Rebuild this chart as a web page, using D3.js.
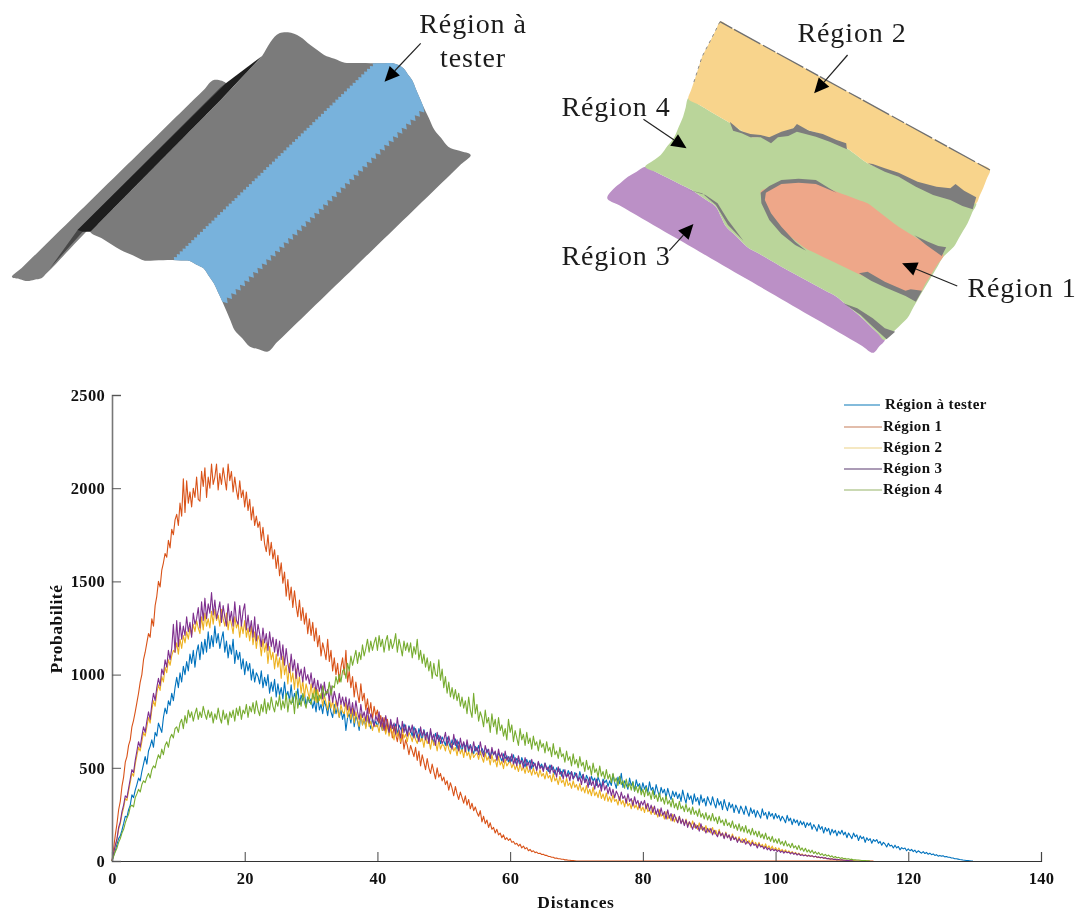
<!DOCTYPE html>
<html><head><meta charset="utf-8">
<script src="https://cdn.jsdelivr.net/npm/d3@7/dist/d3.min.js"></script>
<style>html,body{margin:0;padding:0;background:#fff}svg{display:block;filter:blur(0.35px)}</style>
</head><body><svg id="c" width="1082" height="912"></svg>
<script>
// Sampling grid of the curves (each row below covers 5 distance units)
const distances = d3.range(0, 130.25, 0.25);
const seriesNames = ["Région à tester","Région 1","Région 2","Région 3","Région 4"];
const seriesColors = ["#0072BD","#D95319","#EDB120","#7E2F8E","#77AC30"];
const legendColors = ["#5aa5cf","#d9a78f","#f2e0ae","#8f7a9e","#b9cc9a"];
const xTicks = [0,20,40,60,80,100,120,140];
const yTicks = [0,500,1000,1500,2000,2500];

const regionTester = [
0,30,55,90,120,135,165,200,240,235,275,300,355,340,380,410,445,430,480,520,
560,520,590,615,650,610,690,670,740,715,690,770,820,790,860,835,900,860,930,985,
930,1010,960,1045,1000,1070,1020,1110,1060,1130,1040,1120,1160,1080,1175,1110,1190,1120,1230,1140,
1210,1150,1260,1170,1220,1140,1190,1230,1120,1180,1090,1160,1110,1190,1060,1130,1080,1120,1030,1085,
1000,1070,1020,1060,970,1030,960,1010,990,950,1020,930,985,940,1000,900,960,910,975,880,
950,890,930,870,960,880,910,860,945,850,900,870,925,840,890,860,900,830,880,850,
870,820,860,800,885,810,840,790,860,830,780,850,800,770,840,790,825,770,810,760,
800,700,770,790,740,810,720,780,750,700,790,730,760,720,770,740,710,765,730,750,
720,760,735,700,750,715,740,690,745,725,700,735,680,730,710,690,735,705,680,725,
700,670,720,690,660,710,680,650,705,670,690,640,695,665,635,685,655,675,630,665,
645,620,665,635,610,650,625,655,600,640,615,590,635,610,630,585,625,600,575,615,
590,620,570,605,585,565,600,575,550,595,570,585,545,580,560,535,575,550,565,530,
560,535,570,525,550,540,510,555,530,505,545,520,540,495,530,515,490,530,505,520,
490,525,500,480,515,490,505,465,500,480,495,455,490,470,450,485,465,480,440,475,
455,430,480,445,465,420,460,440,410,455,430,445,405,450,425,395,440,420,435,400,
430,405,465,420,390,450,415,470,395,430,410,385,445,405,425,375,435,400,415,375,
420,385,405,365,425,380,395,355,410,375,345,395,365,385,340,390,355,330,375,345,
370,335,360,320,380,340,310,365,330,350,305,360,320,340,300,355,315,335,295,345,
320,300,345,310,285,335,300,320,275,330,295,270,315,285,305,260,300,280,255,295,
275,250,295,265,240,285,255,275,235,270,250,230,280,245,260,225,265,240,255,225,
255,230,245,215,240,225,205,245,215,230,195,225,205,220,190,215,195,210,180,205,
190,205,170,195,180,160,195,170,185,150,180,160,175,140,170,150,165,135,160,145,
165,140,155,125,150,135,120,150,130,140,110,135,120,130,100,125,110,120,95,115,
105,115,95,105,85,100,90,75,95,80,85,70,85,70,78,60,72,65,70,55,
65,55,62,50,58,45,55,48,42,50,40,46,36,42,34,38,30,34,26,30,
26,28,22,24,20,20,16,16,12,12,10,8,7,5,4,3,2,1,0,0];

const region1 = [
0,70,140,200,275,320,400,450,530,560,620,650,720,755,800,850,900,960,1000,1080,
1120,1170,1220,1200,1300,1260,1370,1420,1500,1470,1560,1600,1650,1630,1720,1680,1780,1750,1830,1860,
1800,1920,1850,2050,1870,2040,1920,1980,1900,2000,1950,2060,1940,1930,2090,2010,2110,1950,2060,2000,
2130,2020,2060,2130,1990,2080,2020,2110,2050,1990,2130,2040,2090,1980,2060,1990,1940,2040,1950,1990,
1900,1980,1880,1940,1830,1900,1800,1850,1790,1820,1720,1790,1700,1660,1750,1640,1710,1620,1670,1570,
1640,1530,1600,1490,1550,1420,1510,1400,1470,1360,1450,1370,1310,1400,1290,1360,1270,1330,1220,1300,
1210,1280,1180,1250,1150,1210,1100,1170,1130,1080,1190,1070,1130,1020,1090,1000,1060,960,1040,1090,
1000,1130,960,1020,930,990,880,960,900,850,950,860,900,810,870,790,850,760,830,780,
810,740,780,720,770,690,760,700,730,660,720,680,640,700,630,680,600,650,620,570,
620,590,560,610,540,590,510,570,530,490,550,500,470,520,480,440,500,450,470,430,
450,410,430,380,420,390,350,400,360,330,370,340,310,350,300,330,280,310,270,290,
260,240,270,210,240,200,220,180,205,170,180,150,170,140,150,125,140,115,125,110,
120,100,105,90,95,80,90,70,80,65,72,55,62,50,55,45,48,40,42,35,
36,30,30,25,24,20,20,15,16,12,12,9,9,6,6,4,4,2,2,1,
0,0,0,0,0,0,0,0,0,0,0,0,0,0,0,0,0,0,0,0,
0,0,0,0,0,0,0,0,0,0,0,0,0,0,0,0,0,0,0,0,
0,0,0,0,0,0,0,0,0,0,0,0,0,0,0,0,0,0,0,0,
0,0,0,0,0,0,0,0,0,0,0,0,0,0,0,0,0,0,0,0,
0,0,0,0,0,0,0,0,0,0,0,0,0,0,0,0,0,0,0,0,
0,0,0,0,0,0,0,0,0,0,0,0,0,0,0,0,0,0,0,0,
0,0,0,0,0,0,0,0,0,0,0,0,0,0,0,0,0,0,0,0,
0,0,0,0,0,0,0,0,0,0,0,0,0,0,0,0,0,0,0,0,
0,0,0,0,0,0,0,0,0,0,0,0,0,0,0,0,0,0,0,0];

const region2 = [
0,40,80,115,170,200,250,285,335,325,375,420,470,455,520,565,610,590,640,690,
670,720,770,740,810,860,830,900,945,915,990,960,1040,1010,1080,1050,1100,1130,1120,1170,
1110,1190,1140,1210,1170,1230,1190,1250,1210,1270,1230,1290,1250,1220,1310,1240,1330,1260,1300,1250,
1340,1270,1350,1290,1320,1260,1350,1300,1260,1330,1240,1310,1270,1220,1310,1250,1280,1200,1270,1220,
1290,1200,1250,1180,1260,1160,1230,1140,1210,1180,1100,1190,1120,1170,1060,1150,1080,1120,1030,1110,
1040,1090,980,1100,1000,1050,950,1060,960,1010,920,1030,930,990,900,970,880,950,910,870,
950,870,930,850,920,860,900,830,890,850,810,880,820,860,790,860,810,770,840,800,
790,850,770,830,760,820,740,800,760,720,790,730,770,710,780,720,750,700,740,720,
730,690,750,700,720,680,730,670,710,690,650,720,670,700,640,710,660,680,640,690,
670,640,690,650,630,680,640,660,610,670,630,650,600,660,620,640,590,650,600,625,
620,590,640,600,575,630,590,610,565,620,575,600,555,610,565,585,545,595,555,570,
580,545,590,555,530,580,540,560,515,570,530,545,505,560,515,535,495,545,510,525,
535,500,525,490,515,480,520,485,505,470,510,475,490,460,500,465,480,450,490,455,
470,440,480,445,460,425,470,430,445,410,455,420,435,400,445,405,420,390,430,395,
410,380,415,375,395,365,405,360,385,350,395,350,370,340,380,335,360,325,365,320,
345,315,355,320,330,300,345,305,325,290,335,295,310,280,325,285,300,275,310,270,
290,260,305,265,275,250,290,250,265,235,275,240,255,225,265,225,245,215,250,210,
235,205,240,205,220,195,225,190,210,180,215,180,195,170,205,170,185,160,190,155,
175,150,180,145,165,135,170,135,150,125,155,125,140,115,145,115,130,105,130,100,
120,98,122,95,110,88,112,85,100,80,100,76,90,70,92,68,82,62,80,58,
72,56,70,52,62,48,60,44,54,42,50,38,46,34,42,32,38,28,34,26,
32,24,28,22,26,18,22,16,20,14,16,12,14,10,12,8,10,6,7,5,
6,4,4,3,2,2,1,1,0];

const region3 = [
0,45,85,120,180,210,265,300,350,340,390,440,490,475,540,590,640,610,670,720,
690,750,800,760,840,900,860,930,980,940,1030,1000,1080,1040,1130,1080,1140,1270,1120,1290,
1150,1280,1190,1260,1210,1310,1230,1280,1200,1330,1270,1300,1360,1250,1390,1290,1410,1300,1380,1330,
1440,1320,1400,1300,1340,1390,1280,1370,1310,1260,1380,1290,1340,1260,1390,1290,1270,1370,1260,1340,
1380,1240,1320,1230,1290,1200,1310,1180,1270,1220,1150,1250,1170,1220,1130,1230,1150,1200,1120,1190,
1100,1180,1080,1160,1050,1140,1060,1010,1110,1020,1080,980,1060,990,1030,960,1040,970,1000,950,
1010,930,980,900,970,910,950,870,960,890,920,860,940,850,910,870,830,900,840,880,
830,880,810,870,790,850,780,860,800,760,840,770,800,750,820,740,790,760,720,780,
750,800,720,770,700,780,730,690,760,710,740,680,770,700,660,750,690,730,670,720,
690,730,660,710,680,640,720,670,700,650,690,630,710,650,680,620,690,640,670,630,
650,690,620,670,630,600,680,620,650,590,660,610,640,585,650,600,620,580,640,590,
610,570,640,590,560,620,580,600,550,610,570,590,540,600,555,580,530,590,540,560,
530,575,520,555,510,565,525,540,500,555,510,530,490,545,505,525,485,535,495,510,
480,525,490,505,470,515,475,490,450,505,465,480,440,490,450,470,430,480,440,455,
470,430,450,410,465,420,440,395,450,405,430,385,440,395,415,375,430,380,405,360,
395,350,385,340,375,355,325,370,335,350,310,360,320,335,295,345,305,325,285,320,
300,325,280,310,270,300,260,295,250,280,240,285,245,265,225,275,230,255,215,250,
225,205,240,200,225,190,220,180,210,195,170,205,175,190,160,200,165,180,150,175,
155,175,140,165,145,130,160,135,150,120,150,125,140,110,135,115,125,100,120,105,
100,115,90,105,95,80,100,85,90,70,92,75,80,65,78,60,70,55,65,55,
62,50,58,46,54,42,52,44,48,38,46,36,42,32,40,30,34,28,32,26,
30,25,28,22,26,20,22,18,20,15,18,12,14,10,12,8,10,6,8,5,
6,4,4,2,2,1,1,0];

const region4 = [
0,25,50,70,100,120,150,170,205,230,250,290,300,290,340,360,385,370,410,430,
420,450,470,445,490,510,500,540,570,550,600,570,620,640,610,660,680,660,710,720,
690,740,760,710,780,740,810,770,800,750,790,820,760,800,770,830,790,760,810,770,
800,740,790,760,820,770,740,810,760,790,730,800,770,810,750,820,780,830,760,810,
790,840,770,830,800,850,790,860,810,780,840,800,870,790,850,810,880,830,800,860,
830,890,810,860,820,900,800,870,840,880,790,910,820,870,830,900,850,820,880,860,
840,900,860,920,850,890,870,940,880,910,900,960,890,940,930,990,950,1000,960,1020,
1030,980,1060,1020,1100,1050,1090,1130,1060,1120,1080,1160,1100,1140,1190,1120,1180,1130,1170,1200,
1130,1210,1150,1190,1120,1180,1210,1130,1190,1140,1170,1220,1120,1190,1150,1100,1180,1130,1170,1120,
1170,1090,1150,1110,1190,1080,1130,1060,1110,1040,1090,1020,1070,980,1060,1000,990,1080,970,1030,
930,990,900,960,880,930,870,920,860,900,830,880,820,860,790,880,810,770,900,790,
840,750,800,770,720,810,740,770,690,790,720,760,680,770,700,730,670,710,650,760,
690,730,640,700,660,620,710,650,680,620,690,630,660,600,670,620,640,590,650,610,
630,580,640,590,610,560,630,570,590,550,610,560,575,530,590,540,560,510,575,520,
545,500,560,510,530,480,540,490,510,460,525,475,495,450,510,455,480,440,490,440,
465,420,470,425,445,405,455,410,430,390,440,395,415,380,425,375,400,365,405,355,
385,345,395,350,370,330,380,335,355,320,365,320,340,305,350,305,325,290,335,285,
310,275,320,280,295,265,305,265,285,250,290,250,270,240,280,235,255,225,260,220,
245,215,255,215,235,200,240,205,220,190,225,190,205,180,215,175,195,165,200,160,
185,155,190,150,170,140,175,140,160,130,160,125,145,118,150,115,130,105,132,100,
118,95,120,90,105,82,108,80,92,72,95,70,82,62,84,58,70,52,68,48,
60,44,58,40,50,36,46,32,40,28,36,26,32,22,28,18,24,16,20,14,
18,12,14,10,12,8,10,6,7,5,5,4,3,2,2,1,1,0];

const series = [regionTester, region1, region2, region3, region4];

// Illustration outlines, in zoom units (x/2.9, y/3 gives pixels)
const flapOutline = [[35,832],[620,240],[655,250],[150,805],[120,835],[80,843]];
const grooveDark = [[225,690],[655,250],[760,168],[640,300],[262,695],[240,695]];
const grooveSoft = [[145,805],[225,690],[640,262],[655,250],[240,695]];
const bodyOutline = [[262,695],[640,300],[760,168],[785,125],[810,100],[835,97],[870,110],[900,135],[940,165],[1000,188],[1090,190],[1140,190],[1170,205],[1195,240],[1228,320],[1260,390],[1300,440],[1365,465],[775,1055],[725,1040],[680,990],[645,905],[620,850],[590,805],[550,783],[500,780],[420,782],[350,750],[295,715]];
const blueBand = [[1190,90],[1328,220],[545,1005],[405,880]];
const blueUpperEdge = [[1090,190],[505,780]];
const blueLowerEdge = [[1228,320],[645,905]];
const yellowOutline = [[522,65],[1305,510],[1285,565],[1265,610],[1200,590],[1100,560],[1020,520],[950,490],[890,445],[820,405],[745,380],[690,410],[610,410],[560,375],[430,295],[445,250],[470,170],[500,110]];
const greenOutline = [[430,295],[560,375],[610,410],[690,410],[745,380],[820,405],[890,445],[950,490],[1020,520],[1100,560],[1200,590],[1265,610],[1240,670],[1200,740],[1170,770],[1100,890],[1065,955],[1030,990],[1000,1020],[930,950],[860,890],[700,800],[600,740],[540,680],[510,620],[440,570],[305,500],[350,465],[390,410],[415,350]];
const purpleOutline = [[305,500],[440,570],[510,620],[540,680],[600,740],[700,800],[860,890],[930,950],[1000,1020],[968,1058],[195,595],[215,565],[255,530]];
const orangeOutline = [[640,575],[700,545],[790,545],[860,575],[950,610],[1040,680],[1170,765],[1100,880],[1040,870],[930,825],[840,780],[770,745],[700,690],[660,640]];
const grayBands = [
 [[550,365],[560,392],[585,400],[610,412],[640,412],[670,430],[690,412],[720,408],[745,395],[770,402],[800,410],[840,425],[890,448],[888,430],[860,420],[820,402],[780,392],[745,372],[735,385],[700,395],[665,412],[640,405],[610,402],[580,392],[565,378]],
 [[950,490],[1000,515],[1040,530],[1090,560],[1140,585],[1190,600],[1225,618],[1255,628],[1265,592],[1230,572],[1205,552],[1190,565],[1150,560],[1095,545],[1040,518],[1000,505],[965,492]],
 [[640,578],[642,610],[665,660],[700,702],[740,735],[772,752],[740,725],[700,680],[670,640],[652,600],[655,578],[700,552],[750,548],[800,552],[860,578],[800,540],[750,536],[700,540],[665,558]],
 [[925,820],[960,842],[1000,862],[1060,888],[1090,905],[1108,872],[1075,868],[1060,872],[1000,845],[950,815]],
 [[1040,678],[1085,705],[1120,735],[1165,768],[1178,742],[1155,738],[1125,725],[1090,708]],
 [[430,570],[470,580],[510,615],[545,675],[590,722],[545,660],[515,610],[480,585]],
 [[880,910],[930,945],[960,975],[1005,1018],[1030,995],[1000,985],[965,955],[920,925]]
];
const sketchLabels = [
 {t:"Région à",x:473,y:33},{t:"tester",x:473,y:67},
 {t:"Région 2",x:852,y:42},{t:"Région 4",x:616,y:116},
 {t:"Région 3",x:616,y:265},{t:"Région 1",x:1022,y:297}];
const sketchArrows = [
 {from:[1220,130],to:[1115,245],ox:0},
 {from:[892,165],to:[795,280],ox:540},
 {from:[300,358],to:[425,445],ox:540},
 {from:[375,752],to:[445,672],ox:540},
 {from:[1210,858],to:[1050,790],ox:540}];

const svg = d3.select("#c");
const serif = "'Liberation Serif','DejaVu Serif',serif";
const sx = d3.scaleLinear().domain([0,2.9]).range([0,1]);
const sy = d3.scaleLinear().domain([0,3]).range([0,1]);
const polyLine = d3.line().x(p=>sx(p[0])).y(p=>sy(p[1]));
const smoothLine = d3.line().x(p=>sx(p[0])).y(p=>sy(p[1])).curve(d3.curveCatmullRomClosed.alpha(1));
const poly = pts => polyLine(pts)+"Z";
const between = (p,q,t) => [p[0]+(q[0]-p[0])*t, p[1]+(q[1]-p[1])*t];
// Keep long straight edges straight: split them before the curve is fitted
const densify = pts => pts.flatMap((p,i) => {
  const q = pts[(i+1)%pts.length], len = Math.hypot(q[0]-p[0], q[1]-p[1]);
  const n = Math.max(1, Math.ceil(len/40));
  return d3.range(n).map(k => between(p,q,k/n));
});
const smooth = pts => smoothLine(densify(pts));

// Left surface
const left = svg.append("g");
left.append("path").attr("d",smooth(flapOutline)).attr("fill","#7f7f7f");
left.append("path").attr("d",smooth(bodyOutline)).attr("fill","#7b7b7b");
left.append("path").attr("d",poly(grooveSoft)).attr("fill","#474747");
left.append("path").attr("d",poly(grooveDark)).attr("fill","#1e1e1e");
svg.append("clipPath").attr("id","bodyClip").append("path").attr("d",smooth(bodyOutline));
const blue = left.append("g").attr("clip-path","url(#bodyClip)");
// saw-tooth edges of the blue strip
const toothPath = (edge, n, dx, dy) => d3.range(n).flatMap(i => {
  const a = between(edge[0],edge[1],i/n), b = between(edge[0],edge[1],(i+0.5)/n);
  return [a,[b[0]+dx,b[1]+dy]];
});
const upperTeeth = toothPath(blueUpperEdge, 70, -5, -5);
const lowerTeeth = toothPath(blueLowerEdge, 46, 9, 11);
const stripPts = [blueBand[0],blueBand[1],blueLowerEdge[0],...lowerTeeth,blueLowerEdge[1],blueBand[2],blueBand[3],blueUpperEdge[1],...upperTeeth.slice().reverse(),blueUpperEdge[0]];
blue.append("path").attr("d",poly(stripPts)).attr("fill","#78b2dc");

// Right surface
const right = svg.append("g").attr("transform","translate(540,0)");
right.append("path").attr("d",smooth(purpleOutline)).attr("fill","#bb90c6");
right.append("path").attr("d",smooth(greenOutline)).attr("fill","#bad59a");
right.append("path").attr("d",smooth(yellowOutline)).attr("fill","#f8d48c");
right.append("path").attr("d",polyLine([yellowOutline[0],yellowOutline[1]])).attr("fill","none").attr("stroke","#6f6f6f").attr("stroke-width",1.3).attr("stroke-dasharray","14 2 30 3");
right.append("path").attr("d",polyLine([yellowOutline[0],yellowOutline[17],yellowOutline[16],yellowOutline[15]])).attr("fill","none").attr("stroke","#8a8a8a").attr("stroke-width",1).attr("stroke-dasharray","3 4");
right.append("path").attr("d",smooth(orangeOutline)).attr("fill","#eea789");
grayBands.forEach(b => right.append("path").attr("d",poly(b)).attr("fill","#7d7d7d"));

// Arrows and labels of the sketches
sketchArrows.forEach(a => {
  const x0=sx(a.from[0])+a.ox,y0=sy(a.from[1]),x1=sx(a.to[0])+a.ox,y1=sy(a.to[1]);
  const ang=Math.atan2(y1-y0,x1-x0), L=15, Wd=7;
  const bx=x1-L*Math.cos(ang), by=y1-L*Math.sin(ang);
  svg.append("line").attr("x1",x0).attr("y1",y0).attr("x2",bx).attr("y2",by).attr("stroke","#222").attr("stroke-width",1.2);
  svg.append("path").attr("fill","#000").attr("d",`M${x1},${y1}L${bx-Wd*Math.sin(ang)},${by+Wd*Math.cos(ang)}L${bx+Wd*Math.sin(ang)},${by-Wd*Math.cos(ang)}Z`);
});
svg.append("g").selectAll("text").data(sketchLabels).join("text")
  .attr("x",d=>d.x).attr("y",d=>d.y).attr("text-anchor","middle")
  .attr("font-family",serif).attr("font-size",28).attr("letter-spacing",0.9).attr("fill","#1c1c1c").text(d=>d.t);

// Chart
const x = d3.scaleLinear().domain([0,140]).range([112,1041]);
const y = d3.scaleLinear().domain([0,2500]).range([861,395]);
const chart = svg.append("g");
const line = d3.line().x((d,i)=>x(distances[i])).y(d=>y(d));
series.forEach((s,k)=>{
  chart.append("path").attr("d",line(s)).attr("fill","none")
    .attr("stroke",seriesColors[k]).attr("stroke-width",1.1).attr("stroke-linejoin","round");
});

const xAxis = chart.append("g").attr("transform","translate(0,861)")
  .call(d3.axisBottom(x).tickValues(xTicks).tickSize(-9).tickPadding(11).tickFormat(d3.format("d")));
const yAxis = chart.append("g").attr("transform","translate(112,0)")
  .call(d3.axisLeft(y).tickValues(yTicks).tickSize(-9).tickPadding(7).tickFormat(d3.format("d")));
xAxis.select(".domain").attr("stroke","#333").attr("stroke-width",1.2);
yAxis.select(".domain").attr("stroke","#777").attr("stroke-width",1.6);
xAxis.selectAll(".tick line").attr("stroke","#444");
yAxis.selectAll(".tick line").attr("stroke","#555");
[xAxis,yAxis].forEach(a=>a.selectAll("text").attr("font-family",serif).attr("font-weight","bold").attr("font-size",16.5).attr("letter-spacing",0.3).attr("fill","#111"));

chart.append("text").attr("x",576).attr("y",908).attr("text-anchor","middle")
  .attr("font-family",serif).attr("font-weight","bold").attr("font-size",17.5).attr("letter-spacing",0.7).attr("fill","#111").text("Distances");
chart.append("text").attr("transform","translate(62,629) rotate(-90)").attr("text-anchor","middle")
  .attr("font-family",serif).attr("font-weight","bold").attr("font-size",17.5).attr("letter-spacing",0.5).attr("fill","#111").text("Probabilité");

// Legend
const legendRows = d3.scalePoint().domain(seriesNames.slice(1)).range([427,490]);
seriesNames.forEach((n,i)=>{
  const yy = i===0 ? 405 : legendRows(n);
  chart.append("line").attr("x1",844).attr("x2",i===0?880:882).attr("y1",yy).attr("y2",yy)
    .attr("stroke",legendColors[i]).attr("stroke-width",i===1?1.6:1.3);
  chart.append("text").attr("x",i===0?885:883).attr("y",yy+4).attr("font-family",serif).attr("font-weight","bold")
    .attr("font-size",15).attr("letter-spacing",0.4).attr("fill","#111").text(n);
});
</script></body></html>
